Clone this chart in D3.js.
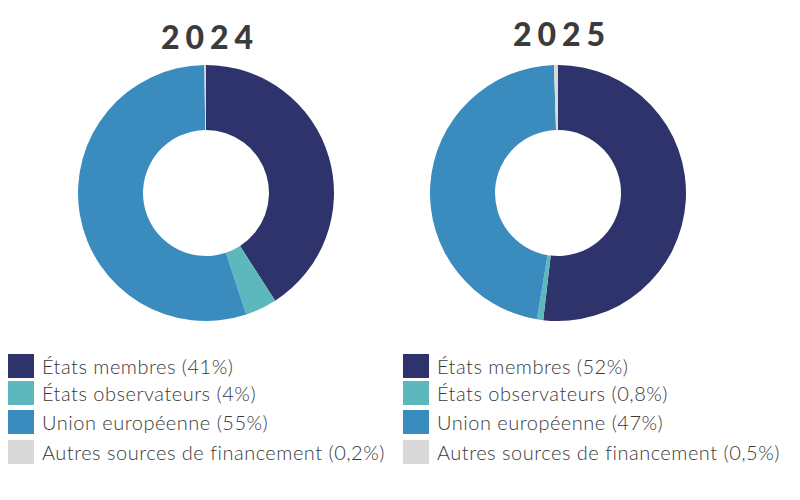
<!DOCTYPE html>
<html>
<head>
<meta charset="utf-8">
<script src="https://cdn.jsdelivr.net/npm/d3@7"></script>
<style>
  body { margin: 0; background: #fff; }
  svg { display: block; }
</style>
</head>
<body>
<div id="chart"></div>
<script>
const categories = ["États membres", "États observateurs", "Union européenne", "Autres sources de financement"];
const years = ["2024", "2025"];
const values2024 = [41, 4, 55, 0.2];
const values2025 = [52, 0.8, 47, 0.5];
const labels2024 = ["41%", "4%", "55%", "0,2%"];
const labels2025 = ["52%", "0,8%", "47%", "0,5%"];
const colors = ["#2f336b", "#5cb8bc", "#3a8cbf", "#d9d9d9"];

const width = 800, height = 500;

let svg = d3.select("#chart").append("svg")
    .attr("width", width)
    .attr("height", height);

let pie = d3.pie().sort(null).value(d => d);
let arc = d3.arc().innerRadius(63).outerRadius(128);

const panels = [
    { year: years[0], values: values2024, labels: labels2024, cx: 206, titleY: 49, legendX: 8 },
    { year: years[1], values: values2025, labels: labels2025, cx: 558, titleY: 46, legendX: 403 }
];

panels.forEach(p => {
    // title
    svg.append("text")
        .attr("x", p.cx + 4)
        .attr("y", p.titleY)
        .attr("text-anchor", "middle")
        .attr("font-family", "Lato, sans-serif")
        .attr("font-weight", 900)
        .attr("font-size", 32)
        .attr("letter-spacing", 6)
        .attr("fill", "#3b3b3b")
        .text(p.year);

    // donut
    let g = svg.append("g")
        .attr("transform", `translate(${p.cx},193)`);
    g.selectAll("path")
        .data(pie(p.values))
        .join("path")
        .attr("d", arc)
        .attr("fill", (d, i) => colors[i]);

    // legend
    const rowY = [354, 381, 410, 440];
    let lg = svg.append("g");
    categories.forEach((c, i) => {
        lg.append("rect")
            .attr("x", p.legendX)
            .attr("y", rowY[i])
            .attr("width", 26)
            .attr("height", 24)
            .attr("fill", colors[i]);
        lg.append("text")
            .attr("x", p.legendX + 34)
            .attr("y", rowY[i] + 20)
            .attr("font-family", "Lato, sans-serif")
            .attr("font-weight", 300)
            .attr("font-size", 20)
            .attr("letter-spacing", 0.5)
            .attr("fill", "#3a3a3a")
            .text(`${c} (${p.labels[i]})`);
    });
});
</script>
</body>
</html>
